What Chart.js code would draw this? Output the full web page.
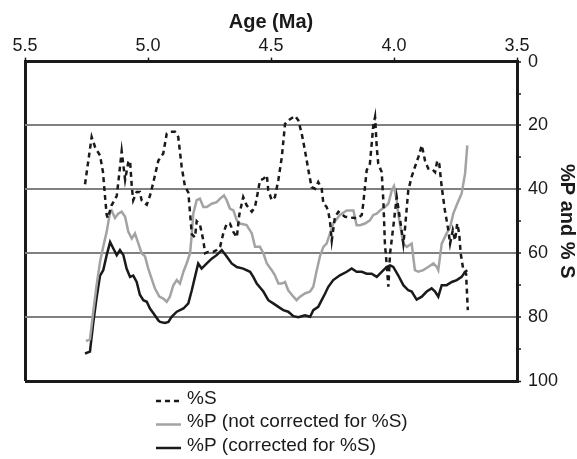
<!DOCTYPE html>
<html>
<head>
<meta charset="utf-8">
<script src="https://cdn.jsdelivr.net/npm/chart.js@4.4.0/dist/chart.umd.min.js"></script>
<style>
  body { margin: 0; background: #fff; }
</style>
</head>
<body>
<canvas id="my-chart" width="577" height="459"></canvas>
<script>
var FONT = '"Liberation Sans", Arial, sans-serif';
var INK = '#1a1a1a';

// %S
var sAge = [5.256, 5.229, 5.215, 5.195, 5.183, 5.175, 5.168, 5.163, 5.148, 5.127, 5.121, 5.107, 5.100, 5.093, 5.080, 5.073, 5.066, 5.060, 5.046, 5.033, 5.026, 5.012, 5.005, 4.992, 4.978, 4.958, 4.938, 4.924, 4.911, 4.890, 4.877, 4.870, 4.863, 4.850, 4.836, 4.822, 4.809, 4.802, 4.789, 4.775, 4.768, 4.755, 4.735, 4.721, 4.707, 4.694, 4.680, 4.667, 4.653, 4.639, 4.629, 4.613, 4.599, 4.578, 4.565, 4.552, 4.545, 4.531, 4.517, 4.511, 4.497, 4.484, 4.470, 4.456, 4.443, 4.430, 4.402, 4.389, 4.375, 4.362, 4.348, 4.335, 4.321, 4.308, 4.294, 4.287, 4.274, 4.267, 4.260, 4.253, 4.240, 4.226, 4.199, 4.159, 4.145, 4.131, 4.125, 4.111, 4.098, 4.084, 4.077, 4.070, 4.064, 4.050, 4.043, 4.037, 4.030, 4.023, 4.016, 4.003, 3.989, 3.983, 3.969, 3.962, 3.955, 3.942, 3.928, 3.915, 3.901, 3.887, 3.874, 3.861, 3.847, 3.833, 3.824, 3.816, 3.806, 3.793, 3.779, 3.772, 3.761, 3.752, 3.743, 3.735, 3.729, 3.718, 3.707, 3.700];
var sVal = [38.4, 23.6, 26.8, 29.4, 34.6, 42, 48, 49, 45, 42, 38, 28, 32.5, 37, 31.5, 31, 39, 43.4, 40.8, 40.8, 43.4, 44.4, 44.8, 42, 37.7, 31, 28.8, 22.6, 22, 22, 23.6, 28.3, 33, 39, 41, 54, 55, 50, 51, 56, 60, 59.6, 59.6, 59, 58, 53.8, 50.7, 50.7, 53.3, 55, 48, 42.4, 45, 47, 45.5, 40.3, 37.2, 36.7, 35.6, 40.3, 43.4, 42.4, 37, 29.9, 19.5, 18.4, 17, 18.4, 22.6, 27.8, 34, 39.3, 39.8, 37.7, 39.8, 44.5, 45.5, 47, 50.2, 56, 48.6, 47, 48.6, 49, 49, 48, 44.5, 34, 32, 20, 17.4, 27, 32, 34.6, 44, 57, 63.2, 70.5, 60, 51.8, 42.4, 45.5, 52.8, 57, 52, 40.3, 36, 33, 29.9, 26.2, 31, 33.5, 33.5, 34.6, 31, 32, 39.3, 46.6, 52.8, 57, 52.8, 56, 50.7, 53.8, 60, 65.3, 66.4, 77.8];

// %P (not corrected for %S)
var pAge = [5.252, 5.236, 5.222, 5.209, 5.195, 5.182, 5.168, 5.154, 5.148, 5.134, 5.121, 5.107, 5.093, 5.080, 5.066, 5.053, 5.039, 5.026, 5.012, 4.999, 4.985, 4.972, 4.954, 4.938, 4.924, 4.911, 4.897, 4.883, 4.870, 4.856, 4.843, 4.829, 4.822, 4.816, 4.802, 4.789, 4.775, 4.761, 4.741, 4.721, 4.707, 4.691, 4.680, 4.667, 4.653, 4.639, 4.626, 4.599, 4.578, 4.565, 4.545, 4.531, 4.517, 4.497, 4.484, 4.470, 4.456, 4.443, 4.430, 4.409, 4.396, 4.382, 4.362, 4.341, 4.328, 4.314, 4.301, 4.287, 4.274, 4.260, 4.247, 4.220, 4.192, 4.165, 4.152, 4.138, 4.118, 4.098, 4.084, 4.070, 4.057, 4.037, 4.023, 4.009, 4.000, 3.989, 3.983, 3.962, 3.948, 3.928, 3.922, 3.915, 3.901, 3.881, 3.861, 3.840, 3.826, 3.820, 3.806, 3.786, 3.772, 3.759, 3.743, 3.725, 3.711, 3.702];
var pVal = [87.5, 87, 78, 70, 62.7, 58, 53.3, 47, 46.6, 49, 47.6, 47, 48.6, 53.3, 55.4, 53.8, 57, 60, 61, 64.8, 68, 71, 73.6, 74.2, 75.2, 73.6, 70, 68.4, 69.5, 65.8, 63.2, 60, 54, 47.6, 43.4, 42.9, 45.5, 45.5, 44.5, 44, 42.9, 41.9, 43.4, 46, 46.6, 49.7, 50.7, 51.2, 53.8, 58, 58, 60, 63.2, 65.3, 66.9, 69.5, 69.5, 69, 71.6, 73.6, 74.7, 73.6, 72.6, 72, 70.5, 65.3, 61, 58, 57, 53.8, 50.7, 48, 46.6, 46.6, 51.2, 51.2, 50.7, 49.7, 48, 47.6, 46.6, 45.5, 44.5, 40.3, 39, 43.4, 47.6, 57, 58, 57, 61, 65.3, 65.8, 65.3, 64.3, 63.2, 64.3, 65.3, 57, 53.8, 51.8, 47.6, 44.5, 41.3, 35, 26.2];

// %P (corrected for %S)
var cAge = [5.256, 5.236, 5.222, 5.209, 5.195, 5.182, 5.168, 5.154, 5.141, 5.127, 5.114, 5.100, 5.087, 5.073, 5.060, 5.046, 5.033, 5.019, 5.005, 4.992, 4.978, 4.958, 4.951, 4.931, 4.917, 4.904, 4.883, 4.856, 4.836, 4.822, 4.809, 4.796, 4.782, 4.761, 4.741, 4.721, 4.700, 4.680, 4.660, 4.639, 4.613, 4.585, 4.572, 4.558, 4.531, 4.511, 4.491, 4.470, 4.450, 4.430, 4.409, 4.389, 4.362, 4.341, 4.328, 4.308, 4.294, 4.280, 4.267, 4.247, 4.220, 4.192, 4.172, 4.152, 4.131, 4.111, 4.091, 4.070, 4.050, 4.030, 4.016, 4.003, 3.983, 3.962, 3.942, 3.928, 3.908, 3.887, 3.867, 3.847, 3.833, 3.820, 3.806, 3.786, 3.765, 3.745, 3.725, 3.711, 3.702];
var cVal = [91.4, 90.8, 81.5, 74, 67, 65.3, 60.6, 56.5, 58.5, 60.6, 59, 60.6, 64.8, 67.4, 67, 69, 73, 74.7, 75.2, 77.3, 78.8, 81, 81.5, 81.8, 81.5, 79.9, 78.3, 77.3, 75.7, 71.6, 67.4, 63.2, 64.8, 63.2, 61.7, 60.6, 59, 61, 63.2, 64.3, 64.8, 65.8, 67.4, 69.5, 72, 74.7, 75.7, 76.8, 77.8, 78.3, 79.7, 80, 79.4, 79.9, 77.8, 76.8, 74.7, 72.6, 70.5, 68.4, 66.9, 65.8, 64.8, 65.8, 65.8, 66.4, 66.4, 67.4, 65.8, 64.3, 63.8, 64.3, 66.9, 70, 71.6, 72, 74.5, 73.6, 72, 71, 72, 73.6, 70, 70, 69, 68.4, 67.4, 65.8, 65.3];

var gridValues = [20, 40, 60, 80];

function points(ages, vals) {
    return ages.map(function (a, i) { return { x: a, y: vals[i] }; });
}

// legend drawn as a vertical list under the plot
var bottomLegend = {
    id: 'bottomLegend',
    afterDraw: function (chart) {
        var ctx = chart.ctx;
        var rows = [398.5, 422, 445.5];
        ctx.save();
        ctx.font = '19px ' + FONT;
        ctx.textBaseline = 'middle';
        ctx.textAlign = 'left';
        chart.data.datasets.forEach(function (ds, i) {
            var y = rows[i];
            ctx.beginPath();
            ctx.setLineDash(ds.borderDash || []);
            ctx.strokeStyle = ds.borderColor;
            ctx.lineWidth = ds.borderWidth;
            ctx.moveTo(156, y + 2.5);
            ctx.lineTo(181, y + 2.5);
            ctx.stroke();
            ctx.setLineDash([]);
            ctx.fillStyle = INK;
            ctx.fillText(ds.label, 187, y);
        });
        ctx.restore();
    }
};

var ctx = document.getElementById('my-chart');

var myChart = new Chart(ctx, {
    type: 'line',
    data: {
        datasets: [
            {
                label: '%S',
                data: points(sAge, sVal),
                borderColor: INK,
                borderWidth: 2.5,
                borderDash: [5, 4],
            },
            {
                label: '%P (not corrected for %S)',
                data: points(pAge, pVal),
                borderColor: '#a3a3a3',
                borderWidth: 2.5,
            },
            {
                label: '%P (corrected for %S)',
                data: points(cAge, cVal),
                borderColor: INK,
                borderWidth: 2.5,
            }
        ]
    },
    options: {
        responsive: false,
        animation: false,
        layout: { padding: { left: 25, right: 0, top: 6, bottom: 78 } },
        elements: {
            point: { radius: 0 },
            line: { tension: 0, fill: false }
        },
        plugins: {
            legend: { display: false },
            tooltip: { enabled: false }
        },
        scales: {
            x: {
                type: 'linear',
                position: 'top',
                reverse: true,
                min: 3.5,
                max: 5.5,
                border: { display: true, color: INK, width: 3 },
                grid: {
                    color: function (c) { return c.tick && c.tick.value === 5.5 ? INK : 'rgba(0,0,0,0)'; },
                    lineWidth: 3,
                    tickColor: INK,
                    tickWidth: 1.5,
                    tickLength: 4
                },
                ticks: {
                    stepSize: 0.5,
                    padding: 1,
                    color: INK,
                    font: { family: FONT, size: 18 },
                    callback: function (v) { return Number(v).toFixed(1); }
                },
                title: {
                    display: true,
                    text: 'Age (Ma)',
                    color: INK,
                    font: { family: FONT, size: 20, weight: 'bold' },
                    padding: { top: 4, bottom: 0 }
                }
            },
            y: {
                type: 'linear',
                position: 'right',
                reverse: true,
                min: 0,
                max: 100,
                afterFit: function (scale) { scale.width = 60; },
                border: { display: true, color: INK, width: 3 },
                grid: {
                    color: function (c) {
                        if (!c.tick) return 'rgba(0,0,0,0)';
                        if (c.tick.value === 100) return INK;
                        return gridValues.indexOf(c.tick.value) >= 0 ? '#808080' : 'rgba(0,0,0,0)';
                    },
                    lineWidth: function (c) { return c.tick && c.tick.value === 100 ? 3 : 2; },
                    tickColor: INK,
                    tickWidth: 1.5,
                    tickLength: 4
                },
                ticks: {
                    stepSize: 10,
                    padding: 7,
                    color: INK,
                    font: { family: FONT, size: 18 },
                    callback: function (v) { return v % 20 === 0 ? v : ''; }
                },
                title: {
                    display: true,
                    text: '%P and % S',
                    color: INK,
                    font: { family: FONT, size: 20, weight: 'bold', lineHeight: 1 },
                    padding: 0
                }
            }
        }
    },
    plugins: [bottomLegend]
});
</script>
</body>
</html>
